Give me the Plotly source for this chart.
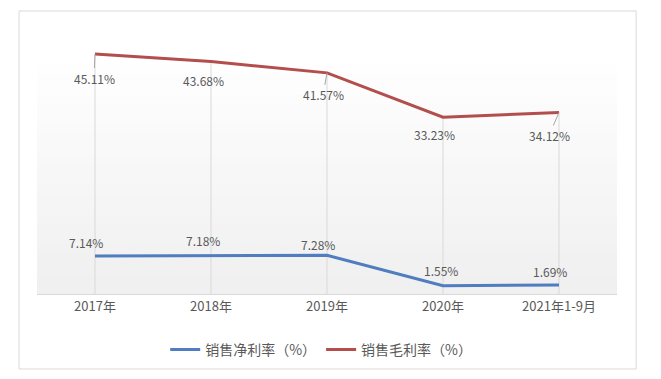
import plotly.graph_objects as go

categories = ["2017年", "2018年", "2019年", "2020年", "2021年1-9月"]
net_margin = [7.14, 7.18, 7.28, 1.55, 1.69]
gross_margin = [45.11, 43.68, 41.57, 33.23, 34.12]
net_name = "销售净利率（%）"
gross_name = "销售毛利率（%）"

BLUE = "#4F7DBF"
RED = "#B34E4C"
TXT = "#595959"
FONT = "Noto Sans CJK SC"

# label offsets (pixels) : style only
gross_off = [(-1, -24, True), (-8, -19, False), (-4, -22, True), (-9, -17, False), (-10, -23, True)]
net_off = [(-9, 14), (-8, 15), (-9, 11), (-2, 15), (-9, 14)]

fig = go.Figure()

# drop lines from the higher series down to the axis
for c, g in zip(categories, gross_margin):
    fig.add_shape(type="line", xref="x", yref="y", x0=c, x1=c, y0=0, y1=g,
                  line=dict(color="#d9d9d9", width=1), layer="below")

fig.add_trace(go.Scatter(x=categories, y=net_margin, mode="lines", name=net_name,
                         line=dict(color=BLUE, width=3)))
fig.add_trace(go.Scatter(x=categories, y=gross_margin, mode="lines", name=gross_name,
                         line=dict(color=RED, width=3)))

for c, v, (dx, dy, lead) in zip(categories, gross_margin, gross_off):
    if lead:
        fig.add_annotation(x=c, y=v, xref="x", yref="y", text=f"{v:.2f}%",
                           showarrow=True, arrowhead=0, arrowwidth=1, arrowcolor="#a6a6a6",
                           ax=dx, ay=-dy, standoff=0,
                           font=dict(color=TXT, size=12, family=FONT))
    else:
        fig.add_annotation(x=c, y=v, xref="x", yref="y", text=f"{v:.2f}%",
                           showarrow=False, xshift=dx, yshift=dy,
                           font=dict(color=TXT, size=12, family=FONT))

for c, v, (dx, dy) in zip(categories, net_margin, net_off):
    fig.add_annotation(x=c, y=v, xref="x", yref="y", text=f"{v:.2f}%",
                       showarrow=False, xshift=dx, yshift=dy,
                       font=dict(color=TXT, size=12, family=FONT))

# plot-area background gradient (white at top to light gray at bottom)
n = 24
for i in range(n):
    shade = int(240 + (255 - 240) * i / (n - 1))
    fig.add_shape(type="rect", xref="x domain", yref="y domain",
                  x0=0, x1=1, y0=i / n * 0.9, y1=(i + 1) / n * 0.9 + 0.002,
                  fillcolor=f"rgb({shade},{shade},{shade})", line=dict(width=0), layer="below")

# outer border
fig.add_shape(type="rect", xref="paper", yref="paper", x0=-0.031, x1=1.033, y0=-0.282, y1=1.064,
              line=dict(color="#d9d9d9", width=1), fillcolor="rgba(0,0,0,0)")

fig.update_layout(
    width=661, height=379,
    margin=dict(l=37, r=44, t=28, b=85),
    paper_bgcolor="white", plot_bgcolor="white",
    font=dict(family=FONT, color=TXT, size=12),
    showlegend=True,
    legend=dict(orientation="h", x=0.49, xanchor="center", y=-0.15, yanchor="top",
                font=dict(size=14, color=TXT, family=FONT), itemwidth=30),
    xaxis=dict(range=[-0.5, 4.5], showgrid=False, showline=True, linecolor="#d9d9d9", linewidth=1,
               ticks="", tickfont=dict(size=13, color=TXT, family=FONT), fixedrange=True),
    yaxis=dict(range=[0, 50], visible=False, showgrid=False, zeroline=False),
)

fig.write_html("out.html")
